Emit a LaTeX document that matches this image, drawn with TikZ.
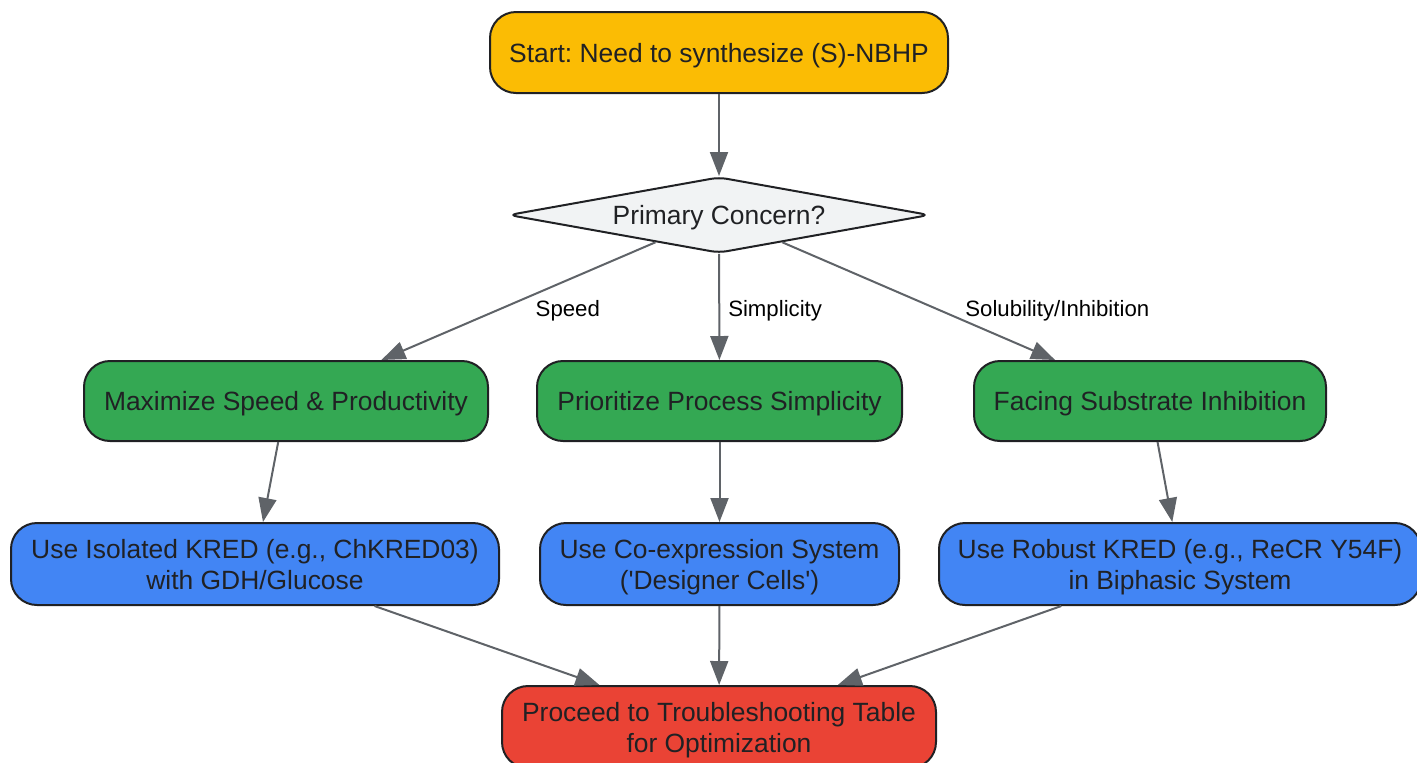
\documentclass[tikz,border=0pt]{standalone}
\usepackage{fontspec}
\setmainfont{Liberation Sans}
\usetikzlibrary{shapes.geometric,arrows.meta}
\frenchspacing

\definecolor{startyellow}{HTML}{FBBC04}
\definecolor{askgrey}{HTML}{F1F3F4}
\definecolor{choicegreen}{HTML}{34A853}
\definecolor{useblue}{HTML}{4285F4}
\definecolor{endred}{HTML}{EA4335}
\definecolor{boxline}{HTML}{202124}
\definecolor{arrowgrey}{HTML}{5F6368}

\begin{document}
\begin{tikzpicture}[x=0.5pt, y=-0.5pt,
    box/.style={rectangle, rounded corners=13pt, draw=boxline, line width=1pt, text=boxline, align=center,
        font=\fontsize{13.2}{15.5}\selectfont, text height=9.5pt, text depth=0pt, minimum height=40pt, inner sep=0pt},
    twoline/.style={text height=25pt, minimum height=41pt},
    decision/.style={diamond, rounded corners=4pt, draw=boxline, line width=1pt, fill=askgrey, text=boxline,
        font=\fontsize{13.2}{15.5}\selectfont, text height=9.5pt, text depth=0pt, aspect=5.5, inner sep=0pt,
        minimum width=210.5pt, minimum height=38pt},
    flow/.style={-{Triangle[length=12pt,width=9pt]}, draw=arrowgrey, fill=arrowgrey, line width=1pt},
    edgelabel/.style={font=\fontsize{11.1}{13}\selectfont, text=black, inner sep=0pt, fill=none, draw=none, yshift=-2pt}]

    \useasboundingbox (0,0) rectangle (1417,762);

    % Start and the decision
    \node (start) [box, fill=startyellow, minimum width=229pt, minimum height=40.5pt] at (719,52.5) {Start: Need to synthesize (S)-NBHP};
    \node (concern) [decision] at (719,215) {Primary Concern?};

    % The three concerns
    \node (speed) [box, fill=choicegreen, minimum width=202pt] at (286,401) {Maximize Speed \& Productivity};
    \node (simple) [box, fill=choicegreen, minimum width=182.5pt] at (719.5,401) {Prioritize Process Simplicity};
    \node (inhib) [box, fill=choicegreen, minimum width=176pt] at (1150,401) {Facing Substrate Inhibition};

    % The systems to use
    \node (isolated) [box, twoline, fill=useblue, minimum width=244pt] at (255,564) {Use Isolated KRED (e.g., ChKRED03)\\with GDH/Glucose};
    \node (coexpr) [box, twoline, fill=useblue, minimum width=179.5pt] at (719.5,564) {Use Co-expression System\\(\textquotesingle Designer Cells\textquotesingle)};
    \node (robust) [box, twoline, fill=useblue, minimum width=241pt] at (1180,564) {Use Robust KRED (e.g., ReCR Y54F)\\in Biphasic System};

    % Last step
    \node (proceed) [box, twoline, fill=endred, minimum width=217pt] at (719,727) {Proceed to Troubleshooting Table\\for Optimization};

    % Arrows between them
    \draw[flow] (start) -- (concern);
    \draw[flow] (concern) -- (speed) node[edgelabel, pos=0.55, anchor=west, xshift=15pt] {Speed};
    \draw[flow] (concern) -- (simple) node[edgelabel, pos=0.5, anchor=west, xshift=4pt] {Simplicity};
    \draw[flow] (concern) -- (inhib) node[edgelabel, pos=0.55, anchor=west, xshift=16pt] {Solubility/Inhibition};
    \draw[flow] (speed) -- (isolated);
    \draw[flow] (simple) -- (coexpr);
    \draw[flow] (inhib) -- (robust);
    \draw[flow] (isolated) -- (proceed);
    \draw[flow] (coexpr) -- (proceed);
    \draw[flow] (robust) -- (proceed);

\end{tikzpicture}
\end{document}
